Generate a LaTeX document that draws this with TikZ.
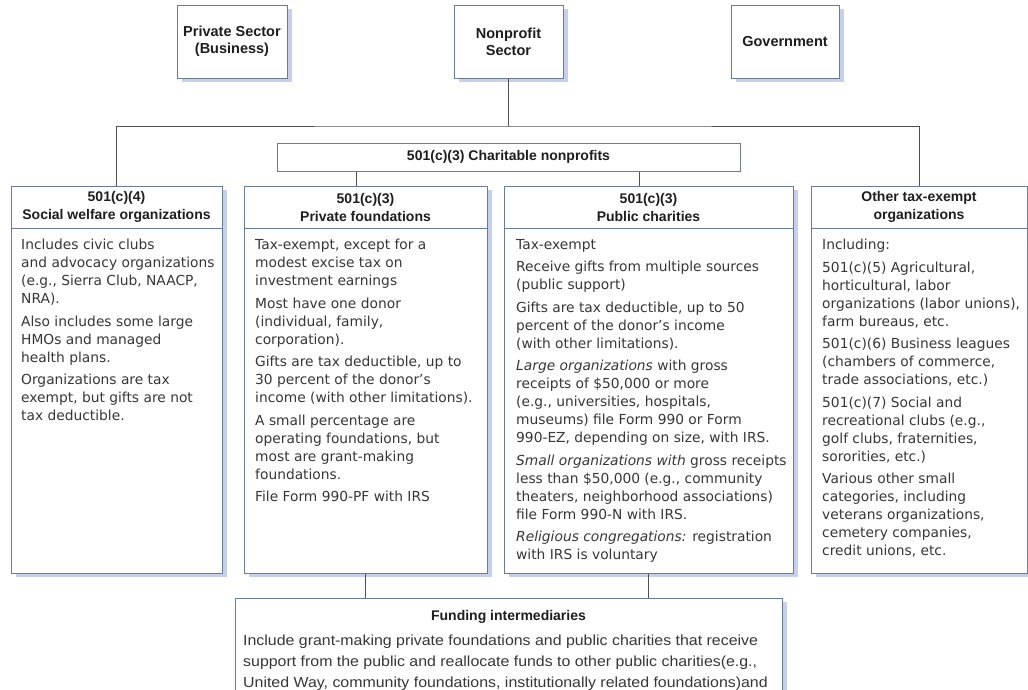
\documentclass[tikz,border=0pt]{standalone}
\usepackage{fontspec}
\usepackage{tikz}
\usepackage{xcolor}
\usetikzlibrary{shadows}
\setmainfont{DejaVu Sans}
\newfontfamily\headfont[Ligatures=TeX]{Liberation Sans}
\newfontfamily\widefont[Ligatures=TeX,FakeStretch=1.09]{Liberation Sans}
\definecolor{boxline}{RGB}{104,124,146}
\definecolor{shadowblue}{RGB}{198,207,235}
\definecolor{linkgrey}{RGB}{80,80,80}
\definecolor{txtgrey}{RGB}{55,55,55}
\definecolor{headink}{RGB}{30,30,30}

\begin{document}
\begin{tikzpicture}[x=1pt,y=-1pt,
  plainbox/.style={draw=boxline,line width=1pt,fill=white,inner sep=0pt},
  box/.style={plainbox,drop shadow={shadow xshift=5pt,shadow yshift=-4pt,fill=shadowblue,opacity=1}},
  toplabel/.style={font=\headfont\bfseries\fontsize{14.5}{17}\selectfont,text=headink,align=center},
  colhead/.style={font=\headfont\bfseries\fontsize{14}{18}\selectfont,text=headink,align=center},
  colbody/.style={anchor=north west,inner sep=0pt,align=left,text=txtgrey,font=\fontsize{13.8}{18}\selectfont},
  link/.style={draw=linkgrey,line width=0.8pt}]
\useasboundingbox[fill=white] (0,0) rectangle (1028,689);

\node[box,minimum width=110,minimum height=73] (ps) at (232,41.5) {};
\node[box,minimum width=109,minimum height=73] (np) at (508.5,41.5) {};
\node[box,minimum width=108,minimum height=73] (gov) at (785,41.5) {};
\node[toplabel] (psl) at (ps) {Private Sector\\(Business)};
\node[toplabel] (npl) at (np) {Nonprofit\\Sector};
\node[toplabel] (govl) at (gov) {Government};

\node[plainbox,minimum width=463,minimum height=28] (cn) at (508.5,157) {};
\node[colhead] (cnl) at (cn) {501(c)(3) Charitable nonprofits};

\node[box,minimum width=211,minimum height=387] (sw) at (116.5,379.5) {};
\node[box,minimum width=243,minimum height=387] (pf) at (365.5,379.5) {};
\node[box,minimum width=289,minimum height=387] (pc) at (648.5,379.5) {};
\node[box,minimum width=216,minimum height=387] (ot) at (919,379.5) {};
\node[box,minimum width=547,minimum height=102] (fi) at (508.5,649) {};

\coordinate (bus) at (508.5,126);
\draw[link] (np.south) -- (bus);
\draw[link] (sw.north) |- (bus) -| (ot.north);
\coordinate (pftop) at ([xshift=-9pt]pf.north);
\coordinate (pctop) at ([xshift=-9.5pt]pc.north);
\draw[link] (pftop |- cn.south) -- (pftop);
\draw[link] (pctop |- cn.south) -- (pctop);
\draw[link] (pf.south) -- (pf.south |- fi.north);
\draw[link] (pc.south) -- (pc.south |- fi.north);

\coordinate (rule) at (0,228);
\foreach \b in {sw,pf,pc,ot}
  \draw[boxline,line width=1pt] (\b.west |- rule) -- (\b.east |- rule);

\node[colhead] (swh) at (116.5,207) {501(c)(4)\\Social welfare organizations};
\node[colhead] (pfh) at (365.5,207) {501(c)(3)\\Private foundations};
\node[colhead] (pch) at (648.5,207) {501(c)(3)\\Public charities};
\node[colhead] (oth) at (919,207) {Other tax-exempt\\organizations};

\node[colbody] (swb) at (21,239) {Includes civic clubs\\
and advocacy organizations\\
(e.g., Sierra Club, NAACP,\\
NRA).\\[4.5pt]
Also includes some large\\
HMOs and managed\\
health plans.\\[4.5pt]
Organizations are tax\\
exempt, but gifts are not\\
tax deductible.};

\node[colbody] (pfb) at (255,239) {Tax-exempt, except for a\\
modest excise tax on\\
investment earnings\\[4.5pt]
Most have one donor\\
(individual, family,\\
corporation).\\[4.5pt]
Gifts are tax deductible, up to\\
30 percent of the donor's\\
income (with other limitations).\\[4.5pt]
A small percentage are\\
operating foundations, but\\
most are grant-making\\
foundations.\\[4.5pt]
File Form 990-PF with IRS};

\node[colbody] (pcb) at (516,239) {Tax-exempt\\[4.5pt]
Receive gifts from multiple sources\\
(public support)\\[4.5pt]
Gifts are tax deductible, up to 50\\
percent of the donor's income\\
(with other limitations).\\[4.5pt]
\textit{Large organizations} with gross\\
receipts of \$50,000 or more\\
(e.g., universities, hospitals,\\
museums) file Form 990 or Form\\
990-EZ, depending on size, with IRS.\\[4.5pt]
\textit{Small organizations with} gross receipts\\
less than \$50,000 (e.g., community\\
theaters, neighborhood associations)\\
file Form 990-N with IRS.\\[4.5pt]
\textit{Religious congregations:} registration\\
with IRS is voluntary};

\node[colbody] (otb) at (822,239) {Including:\\[4.5pt]
501(c)(5) Agricultural,\\
horticultural, labor\\
organizations (labor unions),\\
farm bureaus, etc.\\[4.5pt]
501(c)(6) Business leagues\\
(chambers of commerce,\\
trade associations, etc.)\\[4.5pt]
501(c)(7) Social and\\
recreational clubs (e.g.,\\
golf clubs, fraternities,\\
sororities, etc.)\\[4.5pt]
Various other small\\
categories, including\\
veterans organizations,\\
cemetery companies,\\
credit unions, etc.};

\node[colhead] (fih) at (508.5,617) {Funding intermediaries};
\node[colbody,font=\widefont\fontsize{14.6}{21}\selectfont] (fib) at (243,635) {Include grant-making private foundations and public charities that receive\\
support from the public and reallocate funds to other public charities(e.g.,\\
United Way, community foundations, institutionally related foundations)and};
\end{tikzpicture}
\end{document}
